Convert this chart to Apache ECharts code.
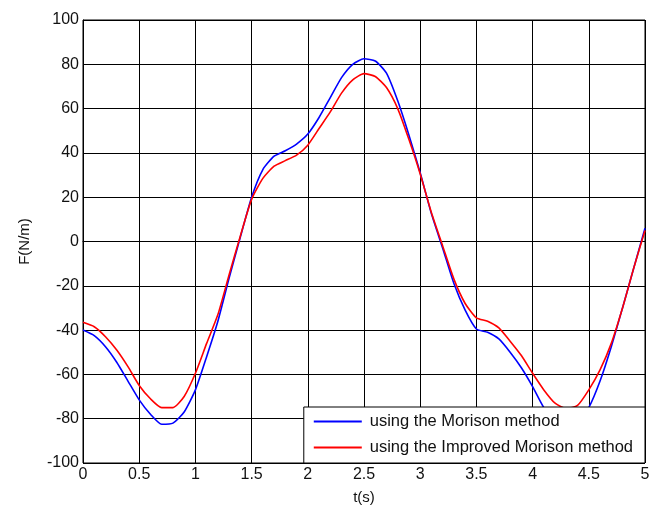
<!DOCTYPE html>
<html lang="en">
<head>
    <meta charset="UTF-8">
    <title>Morison force</title>
    <script src="https://cdn.jsdelivr.net/npm/echarts@6/dist/echarts.min.js"></script>
    <style>
        body { margin: 0; background: #fff; }
    </style>
</head>
<body>
<div id="echart" style="width:662px;height:511px"></div>
<script>
    // time axis, step 0.1 s
    var t = []
    for (var i = 0; i <= 50; i++) {
        t.push(+(i * 0.1).toFixed(1))
    }

    // values
    var morison = [
        -40, -42.5, -47.5, -54.5, -63, -71.5, -78, -82.5, -82, -77,
        -67, -52, -36, -16.5, 2, 20, 32.5, 38.5, 41, 44,
        48.5, 56, 65, 74, 80, 82.5, 81.5, 76, 63.5, 48,
        31, 12.5, -3, -19, -31, -39.5, -41, -44, -50, -57,
        -65.5, -75, -81, -84, -82, -75, -63, -47.5, -30, -12,
        6
    ]
    var improved = [
        -36.5, -38.5, -43, -49, -56.5, -65, -71, -75, -75, -70,
        -59.5, -46, -33, -15, 2.5, 19, 28.5, 34, 36.5, 39,
        43.5, 51, 58.5, 67, 73, 75.8, 74.5, 69.5, 60, 46,
        30.5, 13, -2, -17, -28, -34.5, -36, -39, -45, -51.5,
        -59.5, -67, -73, -75.5, -74, -67, -58, -46, -30, -12,
        5
    ]
    var seriesNames = ['using the Morison method', 'using the Improved Morison method']

    function pairs(ys) {
        var out = []
        for (var i = 0; i < t.length; i++) {
            out.push([t[i], ys[i]])
        }
        return out
    }

    var myChart = echarts.init(document.getElementById('echart'))
    var font = 'Liberation Sans, Arial, sans-serif'

    myChart.setOption({
        animation: false,
        grid: {
            left: 83, right: 17, top: 20, bottom: 48,
            show: true, borderColor: '#000', borderWidth: 1
        },
        xAxis: {
            type: 'value',
            min: 0, max: 5, interval: 0.5,
            name: 't(s)',
            nameLocation: 'middle',
            nameGap: 27,
            nameTextStyle: { color: '#111', fontSize: 15, fontFamily: font },
            axisLine: { lineStyle: { color: '#000', width: 1 } },
            axisTick: { inside: true, length: 3, lineStyle: { color: '#000' } },
            axisLabel: { color: '#111', fontSize: 16, fontFamily: font, margin: 4 },
            splitLine: { show: true, lineStyle: { color: '#000', width: 1 } }
        },
        yAxis: {
            type: 'value',
            min: -100, max: 100, interval: 20,
            name: 'F(N/m)',
            nameLocation: 'middle',
            nameRotate: 90,
            nameGap: 51,
            nameTextStyle: { color: '#111', fontSize: 15, fontFamily: font },
            axisLine: { show: true, lineStyle: { color: '#000', width: 1 } },
            axisTick: { show: true, inside: true, length: 3, lineStyle: { color: '#000' } },
            axisLabel: { color: '#111', fontSize: 16, fontFamily: font, margin: 4 },
            splitLine: { show: true, lineStyle: { color: '#000', width: 1 } }
        },
        legend: {
            orient: 'vertical',
            right: 17,
            bottom: 48,
            backgroundColor: '#fff',
            borderColor: '#000',
            borderWidth: 1,
            borderRadius: 0,
            padding: [6, 12, 7, 10],
            icon: 'rect',
            itemWidth: 48,
            itemHeight: 2,
            itemGap: 9,
            textStyle: { color: '#111', fontSize: 16.5, fontFamily: font, padding: [0, 0, 0, 3] },
            data: seriesNames
        },
        series: [{
            name: seriesNames[0],
            type: 'line',
            data: pairs(morison),
            symbol: 'none',
            smooth: 0.2,
            lineStyle: { color: '#0000ff', width: 1.6 },
            itemStyle: { color: '#0000ff' }
        }, {
            name: seriesNames[1],
            type: 'line',
            data: pairs(improved),
            symbol: 'none',
            smooth: 0.2,
            lineStyle: { color: '#ff0000', width: 1.6 },
            itemStyle: { color: '#ff0000' }
        }]
    })
</script>
</body>
</html>
